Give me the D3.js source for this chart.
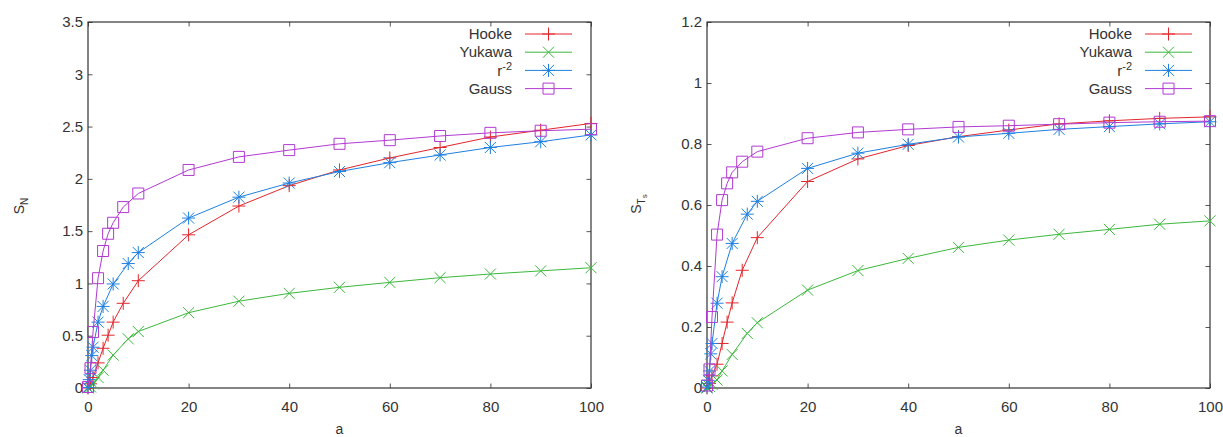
<!DOCTYPE html>
<html>
<head>
<meta charset="utf-8">
<script src="https://cdn.jsdelivr.net/npm/d3@7"></script>
<style>
  body { margin: 0; background: #fff; }
  text { font-family: "Liberation Sans", Arial, sans-serif; fill: #333; }
</style>
</head>
<body>
<div id="chart"></div>
<script>
// --- data ---
const aHooke = [0, 0.5, 1, 2, 3, 4, 5, 7, 10, 20, 30, 40, 50, 60, 70, 80, 90, 100];
const hookeSN = [0, 0.04, 0.1, 0.24, 0.38, 0.505, 0.63, 0.81, 1.026, 1.465, 1.74, 1.935, 2.085, 2.2, 2.3, 2.4, 2.465, 2.53];
const hookeST = [0, 0.015, 0.04, 0.078, 0.146, 0.216, 0.279, 0.386, 0.493, 0.677, 0.751, 0.795, 0.824, 0.846, 0.866, 0.876, 0.884, 0.889];

const aYukawa = [0, 0.5, 1, 2, 3, 5, 8, 10, 20, 30, 40, 50, 60, 70, 80, 90, 100];
const yukawaSN = [0, 0.01, 0.04, 0.1, 0.17, 0.315, 0.47, 0.54, 0.72, 0.83, 0.905, 0.963, 1.01, 1.055, 1.09, 1.12, 1.15];
const yukawaST = [0, 0.005, 0.012, 0.026, 0.056, 0.11, 0.179, 0.214, 0.321, 0.385, 0.425, 0.461, 0.485, 0.504, 0.52, 0.537, 0.548];

const aInvSq = [0, 0.25, 0.5, 0.75, 1, 2, 3, 5, 8, 10, 20, 30, 40, 50, 60, 70, 80, 90, 100];
const invSqSN = [0.005, 0.08, 0.17, 0.31, 0.39, 0.63, 0.78, 0.995, 1.19, 1.295, 1.625, 1.825, 1.96, 2.07, 2.155, 2.228, 2.3, 2.355, 2.42];
const invSqST = [0.003, 0.025, 0.056, 0.112, 0.146, 0.278, 0.365, 0.474, 0.57, 0.612, 0.72, 0.77, 0.799, 0.823, 0.835, 0.848, 0.857, 0.866, 0.873];

const aGauss = [0, 0.5, 1, 2, 3, 4, 5, 7, 10, 20, 30, 40, 50, 60, 70, 80, 90, 100];
const gaussSN = [0.01, 0.19, 0.535, 1.05, 1.31, 1.475, 1.58, 1.73, 1.86, 2.085, 2.21, 2.275, 2.335, 2.37, 2.41, 2.44, 2.46, 2.475];
const gaussST = [0.008, 0.061, 0.233, 0.503, 0.616, 0.671, 0.707, 0.742, 0.775, 0.819, 0.838, 0.848, 0.856, 0.86, 0.865, 0.87, 0.873, 0.875];

const seriesNames = ["Hooke", "Yukawa", "r^-2", "Gauss"];
const xTicks = [0, 20, 40, 60, 80, 100];
const yTicksN = [0, 0.5, 1, 1.5, 2, 2.5, 3, 3.5];
const yTicksT = [0, 0.2, 0.4, 0.6, 0.8, 1, 1.2];

// --- styling ---
const colors = ["#e3262c", "#3cb83c", "#1f80e0", "#b23ad2"];
const symbols = ["plus", "cross", "star", "square"];

const svg = d3.select("#chart").append("svg")
    .attr("width", 1223)
    .attr("height", 437);

function symbolPath(type, s) {
    const plus = `M${-s},0H${s}M0,${-s}V${s}`;
    const c = s * 0.85;
    const cross = `M${-c},${-c}L${c},${c}M${-c},${c}L${c},${-c}`;
    if (type === "plus") return plus;
    if (type === "cross") return cross;
    if (type === "star") return plus + cross;
    const h = 5.5;
    return `M${-h},${-h}H${h}V${h}H${-h}Z`;
}

const panels = [
    {
        x0: 88, x1: 591, yMax: 3.5, yTicks: yTicksN,
        data: [[aHooke, hookeSN], [aYukawa, yukawaSN], [aInvSq, invSqSN], [aGauss, gaussSN]],
        label: "N", labelX: 24, legendRight: 512
    },
    {
        x0: 707, x1: 1210, yMax: 1.2, yTicks: yTicksT,
        data: [[aHooke, hookeST], [aYukawa, yukawaST], [aInvSq, invSqST], [aGauss, gaussST]],
        label: "T", labelX: 641, legendRight: 1132
    }
];

const plotTop = 22, plotBottom = 388;

panels.forEach(p => {
    const x = d3.scaleLinear().domain([0, 100]).range([p.x0, p.x1]);
    const y = d3.scaleLinear().domain([0, p.yMax]).range([plotBottom, plotTop]);
    const g = svg.append("g");

    // ticks, gnuplot style (inside, mirrored)
    const styleAxis = sel => {
        sel.select(".domain").remove();
        sel.attr("font-family", null).attr("font-size", null);
        sel.selectAll("line").attr("stroke", "#555");
        sel.selectAll("text").style("font-size", "15px").attr("fill", "#333");
    };

    g.append("g")
        .attr("transform", `translate(0,${plotBottom})`)
        .call(d3.axisBottom(x).tickValues(xTicks).tickSize(-4.5).tickPadding(13.5).tickFormat(d3.format("")))
        .call(styleAxis);
    g.append("g")
        .attr("transform", `translate(0,${plotTop})`)
        .call(d3.axisTop(x).tickValues(xTicks).tickSize(-4.5).tickFormat(""))
        .call(styleAxis);
    g.append("g")
        .attr("transform", `translate(${p.x0},0)`)
        .call(d3.axisLeft(y).tickValues(p.yTicks).tickSize(-4.5).tickPadding(5).tickFormat(d3.format("")))
        .call(styleAxis);
    g.append("g")
        .attr("transform", `translate(${p.x1},0)`)
        .call(d3.axisRight(y).tickValues(p.yTicks).tickSize(-4.5).tickFormat(""))
        .call(styleAxis);

    // frame
    g.append("rect")
        .attr("x", p.x0).attr("y", plotTop)
        .attr("width", p.x1 - p.x0).attr("height", plotBottom - plotTop)
        .attr("fill", "none").attr("stroke", "#333").attr("stroke-width", 1.2);

    // axis titles
    g.append("text")
        .attr("x", (p.x0 + p.x1) / 2).attr("y", 433.5)
        .attr("text-anchor", "middle")
        .style("font-size", "14px")
        .text("a");

    const yl = g.append("text")
        .attr("transform", `translate(${p.labelX},${p.label === "N" ? 206 : 204}) rotate(-90)`)
        .attr("text-anchor", "middle")
        .style("font-size", "14px");
    yl.append("tspan").text("S");
    yl.append("tspan").attr("dy", 4).style("font-size", "10px").text(p.label);
    if (p.label === "T") yl.append("tspan").attr("dy", 2).style("font-size", "8px").text("s");

    // series
    const line = d3.line().x(d => x(d[0])).y(d => y(d[1]));
    p.data.forEach((s, i) => {
        const pts = s[0].map((a, k) => [a, s[1][k]]);
        g.append("path")
            .datum(pts)
            .attr("d", line)
            .attr("fill", "none")
            .attr("stroke", colors[i])
            .attr("stroke-width", 1);
        g.append("g").selectAll("path")
            .data(pts)
            .join("path")
            .attr("transform", d => `translate(${x(d[0])},${y(d[1])})`)
            .attr("d", symbolPath(symbols[i], 6.5))
            .attr("fill", "none")
            .attr("stroke", colors[i])
            .attr("stroke-width", 1);
    });

    // legend
    seriesNames.forEach((name, i) => {
        const ly = 34 + i * 18.2;
        const t = g.append("text")
            .attr("x", p.legendRight).attr("y", ly)
            .attr("dy", "0.35em")
            .attr("text-anchor", "end")
            .style("font-size", "15px");
        if (name === "r^-2") {
            t.append("tspan").text("r");
            t.append("tspan").attr("dy", -6).style("font-size", "11px").text("-2");
        } else {
            t.text(name);
        }
        const lx0 = p.legendRight + 13, lx1 = p.legendRight + 60;
        g.append("line")
            .attr("x1", lx0).attr("x2", lx1).attr("y1", ly).attr("y2", ly)
            .attr("stroke", colors[i]).attr("stroke-width", 1);
        g.append("path")
            .attr("transform", `translate(${(lx0 + lx1) / 2},${ly})`)
            .attr("d", symbolPath(symbols[i], 6.5))
            .attr("fill", "none")
            .attr("stroke", colors[i])
            .attr("stroke-width", 1);
    });
});
</script>
</body>
</html>
